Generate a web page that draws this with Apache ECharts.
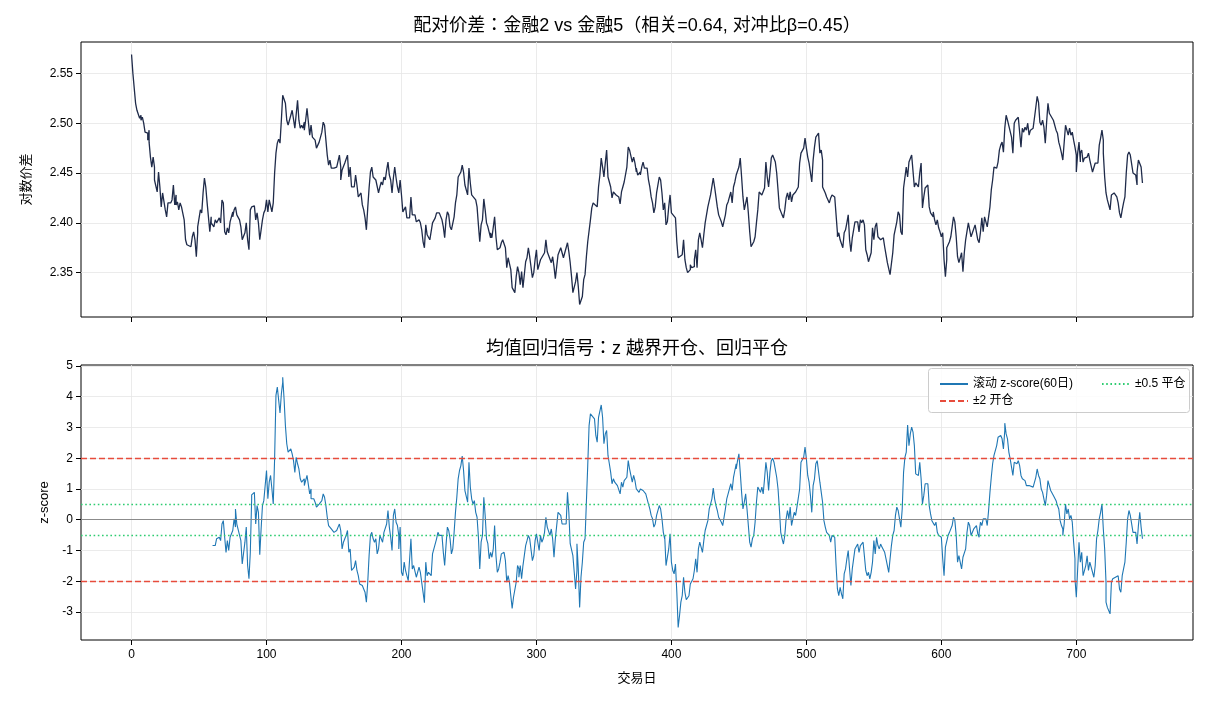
<!DOCTYPE html>
<html>
<head>
<meta charset="utf-8">
<script src="https://cdn.jsdelivr.net/npm/echarts@6/dist/echarts.min.js"></script>
<style>
  html, body { margin: 0; padding: 0; background: #fff; }
  #chart { width: 1210px; height: 704px; }
</style>
</head>
<body>
<div id="chart"></div>
<script>
// 对数价差（交易日 / 数值，读自原图）
const spreadDay = [
  0,1,3,4,5,6,7,7,8,9,10,12,12,13,13,14,15,16,17,17,18,19,20,21,22,23,24,25,26,27,28,29,30,31,32,33,33,34,35,36,
  37,38,39,40,41,44,45,46,47,48,49,49,50,51,52,53,54,55,56,57,58,59,59,60,61,62,63,65,66,67,68,69,70,71,72,73,75,75,76,77,
  78,79,80,81,82,83,84,85,86,87,88,89,91,92,93,94,95,96,97,98,99,100,101,102,103,104,105,106,107,108,109,110,111,112,113,114,115,116,118,119,120,121,
  123,123,124,125,126,127,128,128,129,130,131,132,133,134,135,136,137,139,140,141,142,143,144,145,146,147,148,150,151,152,
  154,155,155,156,158,160,161,162,163,165,166,167,168,170,171,172,173,174,175,176,177,178,179,181,182,183,184,185,186,187,
  188,189,190,191,192,193,194,195,196,197,198,199,200,201,202,202,203,204,205,206,207,208,209,210,211,213,214,215,216,217,
  218,219,220,221,223,224,225,226,228,229,230,231,232,233,234,235,236,237,239,240,241,242,244,245,246,
  247,248,249,250,251,252,253,255,256,257,258,259,260,261,262,263,264,266,266,267,269,270,271,273,274,275,276,277,278,279,
  281,282,283,284,285,286,287,288,289,290,292,293,294,295,297,298,299,300,301,303,304,306,307,308,309,311,312,313,314,315,
  316,318,319,320,321,323,324,325,326,327,329,330,331,332,334,335,336,337,338,340,341,342,343,345,346,347,348,349,350,351,
  352,353,355,356,357,358,359,361,362,363,364,365,366,367,368,369,371,372,
  373,374,374,375,377,377,378,379,380,382,383,384,385,386,387,388,389,390,391,392,393,394,395,396,397,398,399,400,401,403,
  403,404,405,406,408,409,410,411,412,414,414,415,417,417,418,419,420,421,422,423,424,425,426,427,429,430,431,432,433,434,
  435,436,437,438,440,441,442,443,444,445,446,447,448,449,450,451,452,453,454,455,456,457,458,459,461,462,463,464,465,466,
  467,469,470,471,472,473,474,475,476,477,478,479,480,482,483,484,485,486,487,488,489,490,491,492,493,494,495,496,498,
  499,500,501,502,504,505,506,507,509,510,511,512,512,514,515,516,517,518,519,520,521,523,523,524,525,527,528,529,530,531,
  532,533,534,535,536,537,538,539,540,541,542,543,544,545,546,546,547,548,549,550,551,552,553,554,555,557,558,559,560,562,
  563,564,565,567,568,569,570,571,572,573,574,575,576,578,579,580,581,583,584,585,586,587,588,589,590,591,592,594,594,595,
  596,597,598,599,600,601,602,603,604,604,605,606,607,609,610,611,612,613,615,616,617,618,620,621,622,623,
  625,626,627,628,629,630,631,632,633,634,636,637,638,639,641,642,643,644,645,646,647,648,649,650,652,653,654,655,657,658,
  659,660,661,662,663,664,665,666,668,669,670,671,672,673,674,675,676,677,678,679,680,681,683,684,685,686,687,688,689,690,
  691,692,693,694,695,696,697,698,699,700,700,701,702,703,703,704,705,706,707,708,709,710,711,712,713,714,715,716,717,718,
  719,720,720,721,722,723,724,725,726,727,728,729,730,731,732,733,734,735,736,737,738,739,740,741,742,743,744,745,745,746,
  747,748,749
];
const spreadVal = [
  2.569,2.550,2.520,2.513,2.515,2.505,2.508,2.503,2.506,2.500,2.491,2.490,2.483,2.493,2.481,2.466,2.456,2.466,2.456,2.443,
  2.441,2.431,2.451,2.436,2.416,2.430,2.428,2.413,2.406,2.420,2.421,2.420,2.423,2.438,2.418,2.428,2.418,2.421,2.413,2.420,
  2.416,2.416,2.403,2.383,2.378,2.376,2.386,2.391,2.383,2.366,2.390,2.396,2.398,2.413,2.410,2.430,2.445,2.436,2.420,2.418,
  2.391,2.406,2.400,2.401,2.396,2.403,2.400,2.405,2.400,2.423,2.420,2.391,2.388,2.395,2.390,2.401,2.411,2.406,2.413,2.416,
  2.408,2.406,2.403,2.396,2.383,2.381,2.390,2.400,2.383,2.373,2.413,2.416,2.417,2.403,2.410,2.400,2.383,2.393,2.403,2.410,
  2.413,2.423,2.411,2.423,2.421,2.411,2.420,2.450,2.470,2.480,2.484,2.480,2.503,2.528,2.530,2.520,2.503,2.498,2.508,2.513,
  2.511,2.495,
  2.523,2.525,2.503,2.495,2.498,2.495,2.501,2.493,2.503,2.515,2.513,2.488,2.498,2.486,2.486,2.483,2.475,2.481,2.480,2.491,
  2.501,2.498,2.483,2.468,2.458,2.463,2.455,2.455,2.453,2.456,2.468,2.456,2.443,2.453,2.460,2.468,2.446,2.456,2.436,2.436,
  2.448,2.438,2.426,2.430,2.418,2.413,2.405,2.393,2.415,2.435,2.451,2.456,2.446,2.443,2.445,2.430,2.436,2.441,2.438,2.446,
  2.443,2.453,2.461,2.448,2.443,2.430,2.445,2.456,2.445,2.436,2.430,2.443,2.428,2.411,2.413,2.410,2.416,2.405,2.403,2.405,
  2.426,2.408,2.410,2.408,2.401,2.403,2.400,2.393,2.381,2.375,2.398,2.388,2.388,2.383,2.400,2.400,2.405,2.410,2.410,2.408,
  2.403,2.396,2.385,2.403,2.411,2.408,2.396,2.393,2.406,2.420,2.428,2.446,2.451,2.458,2.451,
  2.438,2.436,2.428,2.455,2.440,2.428,2.426,2.423,2.416,2.398,2.381,2.398,2.403,2.424,2.413,2.400,2.396,2.385,2.390,2.385,
  2.406,2.386,2.373,2.375,2.380,2.383,2.381,2.375,2.355,2.365,2.353,2.335,2.336,2.330,2.346,2.356,2.350,2.338,2.351,2.335,
  2.361,2.365,2.375,2.366,2.345,2.350,2.363,2.373,2.353,2.363,2.361,2.370,2.383,2.371,2.370,2.360,2.366,2.356,2.344,2.356,
  2.368,2.375,2.373,2.365,2.363,2.380,2.371,2.360,2.346,2.330,2.341,2.350,2.336,2.318,2.326,2.343,2.348,2.366,2.381,2.403,
  2.415,2.420,2.418,2.416,2.436,2.448,2.465,2.456,2.446,2.460,2.473,2.446,2.436,2.425,2.431,2.430,2.428,2.426,2.419,2.431,
  2.436,2.441,2.443,2.456,2.476,2.473,2.461,2.466,
  2.460,2.451,2.455,2.448,2.451,2.448,2.456,2.461,2.455,2.455,2.443,2.436,2.426,2.420,2.410,2.416,2.430,2.431,2.446,2.443,
  2.430,2.413,2.420,2.398,2.401,2.416,2.428,2.410,2.408,2.405,2.406,2.381,2.365,2.363,2.368,2.383,2.363,2.355,2.350,2.353,
  2.358,2.355,2.356,2.363,2.373,2.355,2.383,2.390,2.383,2.375,2.388,2.400,2.401,2.416,2.428,2.430,2.445,2.436,2.426,2.416,
  2.408,2.410,2.401,2.396,2.408,2.418,2.421,2.423,2.431,2.420,2.436,2.441,2.448,2.446,2.456,2.465,2.446,2.426,2.413,2.415,
  2.426,2.410,2.391,2.376,2.381,2.386,2.400,2.413,2.431,2.430,2.428,2.435,2.461,2.446,2.436,2.450,2.465,2.468,2.466,2.461,
  2.450,2.433,2.415,2.408,2.405,2.413,2.425,2.430,2.423,2.431,2.421,2.428,2.430,2.431,2.433,2.436,2.460,2.470,2.475,
  2.485,2.475,2.466,2.460,2.441,2.463,2.476,2.486,2.490,2.470,2.473,2.463,2.436,2.430,2.426,2.426,2.420,2.425,2.428,2.428,
  2.426,2.390,2.386,2.390,2.383,2.375,2.390,2.393,2.400,2.408,2.383,2.371,2.385,2.386,2.401,2.403,2.401,2.391,2.403,2.400,
  2.403,2.398,2.373,2.368,2.370,2.361,2.363,2.370,2.395,2.383,2.396,2.400,2.386,2.388,2.383,2.385,2.376,2.368,2.360,2.348,
  2.347,2.370,2.388,2.401,2.411,2.408,2.391,2.388,2.435,2.436,2.456,2.446,2.461,2.468,2.466,2.436,2.440,2.436,2.450,2.460,
  2.415,2.426,2.435,2.436,2.438,2.416,2.410,2.406,2.411,2.403,2.398,2.403,2.395,2.391,2.386,2.390,2.363,2.346,2.363,2.375,
  2.373,2.381,2.386,2.406,2.401,2.386,2.366,2.360,2.370,2.351,2.370,2.383,2.400,2.400,2.386,2.388,
  2.398,2.400,2.383,2.380,2.391,2.405,2.391,2.406,2.406,2.396,2.416,2.433,2.443,2.456,2.455,2.461,2.473,2.478,2.481,2.471,
  2.495,2.508,2.503,2.501,2.486,2.470,2.500,2.503,2.506,2.508,2.476,2.495,2.491,2.496,2.493,2.500,2.488,2.493,2.495,2.495,
  2.516,2.527,2.521,2.501,2.498,2.503,2.496,2.480,2.501,2.520,2.510,2.508,2.503,2.503,2.493,2.490,2.481,2.476,2.470,2.463,
  2.465,2.498,2.496,2.488,2.495,2.488,2.491,2.483,2.476,2.468,2.451,2.470,2.481,2.461,2.470,2.473,2.461,2.465,2.463,2.466,
  2.470,2.463,2.465,2.451,2.450,2.460,2.461,2.460,2.478,2.485,2.493,2.483,2.470,2.446,2.430,2.423,2.421,2.413,2.428,2.428,
  2.430,2.428,2.426,2.420,2.410,2.405,2.413,2.420,2.426,2.450,2.468,2.471,2.468,2.466,2.450,2.450,2.448,2.438,2.451,2.463,
  2.461,2.456,2.440
];

// 滚动 z-score(60日)
const zDay = [
  60,61,62,63,65,66,67,68,69,70,71,72,73,75,76,77,77,78,79,81,82,83,84,85,86,87,88,89,89,91,92,93,94,95,96,97,98,99,100,101,
  102,103,104,105,106,107,108,109,110,111,112,112,113,114,115,116,117,118,119,120,121,122,123,124,125,126,128,128,130,131,
  132,133,133,134,135,136,137,139,140,141,142,143,144,145,146,147,148,149,150,152,153,154,155,156,157,158,159,160,161,162,
  163,164,165,166,167,168,169,170,171,172,173,174,175,176,177,178,179,180,181,182,183,184,186,187,188,189,190,191,192,193,194,195,
  196,197,198,198,199,200,201,202,203,204,205,206,207,208,209,210,211,212,213,214,216,217,218,219,220,221,222,223,224,225,
  226,227,228,229,230,231,232,233,234,235,236,237,238,239,240,241,242,243,244,245,246,247,248,249,250,251,252,253,254,255,
  256,257,258,259,260,261,262,263,264,265,266,267,268,269,270,271,272,273,274,276,277,278,279,280,281,282,283,284,285,286,
  287,287,288,289,290,292,293,294,295,297,298,299,300,301,302,303,304,305,306,307,308,309,310,311,312,313,314,315,316,317,
  318,319,320,322,323,324,325,327,328,329,330,330,331,332,333,334,335,
  336,337,338,339,340,341,343,344,345,346,347,348,349,350,351,352,353,354,355,356,357,358,359,360,361,362,363,364,365,366,
  367,368,369,370,371,372,373,374,374,375,376,377,378,379,380,381,382,383,384,385,386,387,388,389,390,391,392,393,394,395,
  395,396,397,398,399,400,401,402,403,404,405,406,407,408,409,410,411,412,413,414,415,416,417,418,419,420,421,422,423,424,
  425,426,427,428,429,430,431,432,433,434,435,436,437,438,439,440,441,442,443,444,445,446,447,448,448,449,450,451,452,453,
  454,455,456,457,458,459,460,461,462,463,464,465,466,467,468,469,470,471,472,473,474,475,476,
  478,479,480,481,482,483,484,485,486,487,488,489,490,491,492,493,494,495,496,497,498,499,500,501,502,503,504,505,506,507,
  508,509,510,511,512,513,514,515,516,517,518,518,519,520,521,522,523,524,525,526,527,528,529,530,531,532,533,534,535,536,
  537,538,539,540,541,542,543,544,545,546,547,548,549,550,551,552,553,554,555,555,556,557,558,559,560,561,562,563,564,565,
  566,567,568,569,570,571,572,573,574,575,576,577,578,579,580,581,582,583,584,585,586,587,588,589,590,591,592,593,593,594,
  595,596,597,598,599,600,601,602,603,604,605,606,607,608,609,610,611,612,613,614,615,616,
  618,619,620,621,622,623,624,625,626,627,628,628,629,630,631,632,633,634,635,636,637,638,639,640,641,642,643,644,645,646,
  647,647,648,649,650,651,652,653,654,655,656,657,658,659,660,661,662,663,664,665,666,668,669,670,671,672,673,674,675,676,
  677,678,679,680,681,682,683,684,685,686,687,688,689,690,690,691,692,693,694,695,696,697,698,699,699,700,701,702,703,704,
  705,706,707,708,709,710,711,712,713,714,715,716,717,718,719,720,721,722,722,723,724,725,726,727,728,729,730,731,732,733,
  734,735,736,737,738,739,740,741,742,743,744,745,746,747,748,748,749
];
const zVal = [
  -0.84,-0.79,-0.84,-0.62,-0.57,-0.68,-0.14,-0.03,-0.57,-1.06,-0.68,-1.00,-0.57,-0.35,0.03,-0.24,0.35,-0.14,-0.19,-0.68,
  -1.44,-1.44,-0.73,-0.24,-1.49,-1.92,-1.06,0.68,0.81,0.89,-0.14,0.46,0.24,-1.14,-0.30,0.46,0.62,0.68,1.60,0.68,
  1.22,1.44,1.00,0.51,1.98,4.04,4.31,4.25,3.47,4.09,4.47,4.63,3.93,3.06,2.47,2.20,2.25,2.30,2.14,1.92,
  1.54,2.03,1.82,1.65,1.33,1.22,1.33,1.11,1.44,1.38,0.84,1.00,0.68,0.73,0.68,0.57,0.41,0.51,0.46,0.62,
  0.84,0.73,0.46,0.08,-0.19,-0.14,-0.30,-0.35,-0.41,-0.35,-0.24,-0.14,-0.35,-0.95,-0.73,-0.62,-0.51,-0.35,-1.06,-0.95,
  -1.65,-1.65,-1.54,-1.33,-1.65,-1.82,-2.09,-2.03,-2.14,-2.25,-2.36,-2.68,-2.03,-1.17,-0.51,-0.41,-0.62,-0.73,-0.62,-1.11,
  -0.95,-0.51,-0.73,-0.41,-0.46,-0.14,0.30,-0.24,-0.57,-1.00,0.14,0.35,
  -0.08,-0.19,-0.51,-0.95,-0.24,-1.71,-1.82,-1.38,-1.65,-1.82,-1.98,-1.92,-0.62,-1.60,-1.49,-1.44,-1.87,-1.82,-1.54,-1.71,
  -2.36,-2.70,-1.38,-1.82,-1.71,-1.65,-1.82,-1.11,-0.95,-0.95,-0.62,-0.41,-0.51,-0.46,-0.51,-1.06,-1.49,-0.84,-0.24,-0.35,
  -0.62,-1.11,-0.95,-0.41,0.24,0.73,1.33,1.60,1.76,2.07,1.60,0.95,1.00,0.57,1.87,1.06,0.68,0.51,0.62,0.24,
  0.08,-0.57,-1.60,-0.73,-0.51,0.73,0.14,-0.62,-0.78,-1.27,-1.06,-1.22,-0.95,-0.19,-1.17,-1.71,-1.60,-1.38,-1.11,-1.06,
  -1.33,-2.03,-1.82,-2.03,-2.47,-2.88,-2.52,-2.57,-2.03,-1.49,-1.60,-1.87,-1.49,-1.92,-1.49,-0.84,-0.68,-0.51,-0.62,-1.33,
  -1.17,-0.68,-0.46,-0.46,-1.00,-0.51,-0.73,-0.62,-0.41,0.08,-0.24,-0.30,-0.51,-0.30,-0.62,-1.22,-0.62,-0.19,0.24,0.30,
  0.14,-0.14,-0.14,-0.14,0.89,0.24,-0.78,-1.17,-1.71,-2.25,-1.65,-0.78,-1.60,-2.85,-1.87,-1.38,-0.73,
  -0.62,0.57,1.76,3.06,3.44,3.50,3.28,2.74,2.52,3.33,3.39,3.73,3.33,2.47,2.79,2.90,2.09,1.82,1.54,1.17,
  1.33,1.22,1.17,1.11,1.06,0.84,1.22,1.06,1.27,1.22,1.38,1.92,1.65,1.65,1.22,1.44,1.27,1.00,1.06,0.95,
  0.89,1.00,1.06,0.95,0.89,0.84,0.79,0.51,0.35,0.14,0.03,-0.24,-0.14,0.14,0.08,0.46,0.35,0.03,-0.41,-0.62,
  -0.51,-1.49,-1.54,-0.95,-0.46,-1.38,-1.65,-1.76,-1.44,-2.36,-3.50,-3.12,-2.68,-2.47,-1.87,-2.36,-2.60,-2.66,-2.47,-2.09,
  -2.03,-1.92,-1.65,-1.27,-1.71,-0.95,-0.73,-0.89,-1.06,-0.68,-0.35,-0.41,-0.03,0.35,0.51,0.68,1.03,0.68,0.46,0.30,
  0.08,0.14,-0.08,-0.19,-0.24,0.35,0.68,0.84,0.84,1.17,0.95,1.38,1.60,1.82,1.65,1.92,2.14,1.54,0.89,0.35,
  0.57,0.84,0.35,-0.19,-0.73,-0.89,-0.62,-0.51,-0.08,0.57,1.06,1.00,0.89,1.06,0.84,1.33,1.87,1.54,0.95,1.54,
  1.92,2.00,1.87,
  1.38,1.00,0.35,-0.41,-0.62,-0.79,-0.51,0.03,0.30,0.03,0.41,-0.19,0.03,0.24,0.14,0.41,0.35,1.00,1.87,1.92,
  2.03,2.36,1.98,1.44,1.22,0.79,0.24,1.11,1.33,1.82,1.92,1.98,1.22,1.17,0.57,-0.03,-0.24,-0.41,-0.46,-0.51,
  -0.46,-0.73,-0.51,-0.57,-0.57,-1.49,-2.25,-2.47,-2.20,-2.41,-2.57,-1.76,-1.60,-1.27,-1.00,-1.60,-2.14,-1.60,-1.54,-0.95,
  -0.95,-0.79,-1.06,-0.84,-0.89,-0.73,-0.79,-1.65,-1.82,-1.71,-1.92,-1.71,-1.38,-0.68,-1.11,-0.57,-0.84,-0.95,-0.95,-0.79,
  -0.89,-0.95,-1.06,-1.27,-1.49,-1.71,-1.65,-0.84,-0.51,-0.35,0.14,0.41,0.30,0.03,-0.24,0.35,1.54,2.03,2.20,3.08,
  2.41,2.79,3.01,2.85,2.41,1.49,1.49,1.44,1.87,1.33,0.51,0.79,1.17,1.11,1.17,0.46,0.19,0.14,-0.03,-0.08,
  -0.19,-0.08,-0.41,-0.51,-0.46,-0.57,-1.27,-1.82,-0.89,-0.84,-0.51,-0.41,-0.41,-0.19,0.08,-0.03,-0.51,-1.38,-1.17,-1.11,
  -1.60,-1.22,
  -0.95,-0.41,-0.08,-0.19,-0.51,-0.46,-0.30,-0.24,-0.19,-0.46,-0.57,-0.41,-0.08,-0.19,0.03,0.03,0.03,-0.19,0.30,0.89,
  1.38,1.82,2.09,2.14,2.41,2.68,2.65,2.74,2.63,2.30,2.90,3.14,2.79,2.63,2.20,1.98,1.92,1.44,1.87,1.87,
  1.82,1.92,1.76,1.44,1.33,1.38,1.27,1.11,1.17,1.11,1.11,1.06,1.11,1.38,1.65,1.44,1.33,1.00,0.89,0.95,
  0.46,0.79,1.27,1.11,0.95,0.95,0.79,0.73,0.62,0.46,0.35,-0.03,-0.19,-0.30,-0.51,-0.14,0.51,0.19,0.35,0.03,
  0.14,-0.08,-0.73,-1.27,-1.92,-2.52,-1.60,-0.73,-1.38,-1.06,-1.82,-1.76,-1.49,-1.17,-1.65,-1.38,-1.54,-1.60,-1.87,-1.49,
  -0.62,-0.35,0.03,0.24,0.51,-0.30,-0.95,-2.03,-2.68,-2.85,-2.90,-3.06,-2.03,-1.92,-1.98,-1.87,-1.92,-1.82,-2.25,-2.36,
  -1.82,-1.60,-1.38,-0.73,0.03,0.30,0.14,0.14,-0.41,-0.35,-0.41,-0.79,-0.19,0.24,0.19,-0.24,-0.62
];

const openBand = [2, -2];      // ±2 开仓
const closeBand = [0.5, -0.5]; // ±0.5 平仓
const dayTicks = [0, 100, 200, 300, 400, 500, 600, 700];
const spreadTicks = [2.35, 2.40, 2.45, 2.50, 2.55];
const zTicks = [-3, -2, -1, 0, 1, 2, 3, 4, 5];

const FONT = '"Liberation Sans", "Noto Sans CJK JP", sans-serif';
const chart = echarts.init(document.getElementById('chart'), null, { renderer: 'canvas' });

const tickStyle = { show: true, inside: false, length: 5, lineStyle: { color: '#000', width: 1 } };
const gridLine = { show: true, lineStyle: { color: '#e6e6e6', width: 0.8 } };
const xBase = {
  type: 'value', min: -37.45, max: 786.45, minInterval: 100, maxInterval: 100, splitNumber: 8,
  axisLine: { show: false, onZero: false },
  axisTick: { ...tickStyle, customValues: dayTicks },
  splitLine: gridLine
};
const yBase = {
  type: 'value',
  axisLine: { show: false, onZero: false },
  splitLine: gridLine,
  nameLocation: 'middle', nameRotate: 90
};

const bandSeries = (name, color, type, width, band) => ({
  name, type: 'line', xAxisIndex: 1, yAxisIndex: 1, data: [], symbol: 'none',
  lineStyle: { color, type, width }, itemStyle: { color },
  markLine: {
    silent: true, symbol: ['none', 'none'], label: { show: false },
    lineStyle: { color, type, width },
    data: band.map(v => ({ yAxis: v }))
  }
});

chart.setOption({
  animation: false,
  backgroundColor: '#fff',
  textStyle: { fontFamily: FONT },
  grid: [
    { left: 81, right: 17, top: 42, height: 275, show: true, borderColor: '#000', borderWidth: 1, backgroundColor: 'transparent' },
    { left: 81, right: 17, top: 365, height: 275, show: true, borderColor: '#000', borderWidth: 1, backgroundColor: 'transparent' }
  ],
  xAxis: [
    { ...xBase, gridIndex: 0, axisLabel: { show: false } },
    { ...xBase, gridIndex: 1, name: '交易日', nameLocation: 'middle', nameGap: 32,
      nameTextStyle: { color: '#000', fontSize: 13, fontFamily: FONT },
      axisLabel: { color: '#000', fontSize: 12, fontFamily: FONT, margin: 9, customValues: dayTicks } }
  ],
  yAxis: [
    { ...yBase, gridIndex: 0, min: 2.3055, max: 2.5815, minInterval: 0.05, maxInterval: 0.05, splitNumber: 6,
      name: '对数价差', nameGap: 48,
      nameTextStyle: { color: '#000', fontSize: 13, fontFamily: FONT },
      axisTick: { ...tickStyle, customValues: spreadTicks },
      axisLabel: { color: '#000', fontSize: 12, fontFamily: FONT, margin: 8, customValues: spreadTicks,
        formatter: v => v.toFixed(2) } },
    { ...yBase, gridIndex: 1, min: -3.91, max: 5.03, minInterval: 1, maxInterval: 1, splitNumber: 9,
      name: 'z-score', nameGap: 30,
      nameTextStyle: { color: '#000', fontSize: 13, fontFamily: FONT },
      axisTick: { ...tickStyle, customValues: zTicks },
      axisLabel: { color: '#000', fontSize: 12, fontFamily: FONT, margin: 8, customValues: zTicks } }
  ],
  legend: [
    { data: ['滚动 z-score(60日)', '±2 开仓'], orient: 'vertical', left: 934, top: 373, itemWidth: 28, itemHeight: 10,
      itemGap: 5, selectedMode: false, itemStyle: { opacity: 0 },
      textStyle: { color: '#000', fontSize: 12, fontFamily: FONT }, z: 6 },
    { data: ['±0.5 平仓'], orient: 'vertical', left: 1096, top: 373, itemWidth: 28, itemHeight: 10,
      selectedMode: false, itemStyle: { opacity: 0 },
      textStyle: { color: '#000', fontSize: 12, fontFamily: FONT }, z: 6 }
  ],
  graphic: [
    { type: 'text', x: 637, y: 26, z: 10,
      style: { text: '配对价差：金融2 vs 金融5（相关=0.64, 对冲比β=0.45）', font: '18px ' + FONT, fill: '#000',
        textAlign: 'center', textVerticalAlign: 'middle', align: 'center', verticalAlign: 'middle' } },
    { type: 'text', x: 637, y: 349, z: 10,
      style: { text: '均值回归信号：z 越界开仓、回归平仓', font: '18px ' + FONT, fill: '#000',
        textAlign: 'center', textVerticalAlign: 'middle', align: 'center', verticalAlign: 'middle' } },
    { type: 'rect', z: 5, shape: { x: 928.5, y: 368.5, width: 261, height: 44, r: 3 },
      style: { fill: 'rgba(255,255,255,0.85)', stroke: '#cccccc', lineWidth: 1 } }
  ],
  series: [
    { name: '对数价差', type: 'line', xAxisIndex: 0, yAxisIndex: 0, symbol: 'none',
      data: spreadDay.map((d, i) => [d, spreadVal[i]]),
      lineStyle: { color: '#1f2b4a', width: 1.3 } },
    { name: '滚动 z-score(60日)', type: 'line', xAxisIndex: 1, yAxisIndex: 1, symbol: 'none',
      data: zDay.map((d, i) => [d, zVal[i]]),
      lineStyle: { color: '#1f77b4', width: 1.1 }, itemStyle: { color: '#1f77b4' },
      markLine: { silent: true, symbol: ['none', 'none'], label: { show: false },
        lineStyle: { color: '#808080', type: 'solid', width: 0.9 }, data: [{ yAxis: 0 }] } },
    bandSeries('±2 开仓', '#e74c3c', [6, 3], 1.4, openBand),
    bandSeries('±0.5 平仓', '#2ecc71', [1.6, 2.6], 1.4, closeBand)
  ]
});
</script>
</body>
</html>
